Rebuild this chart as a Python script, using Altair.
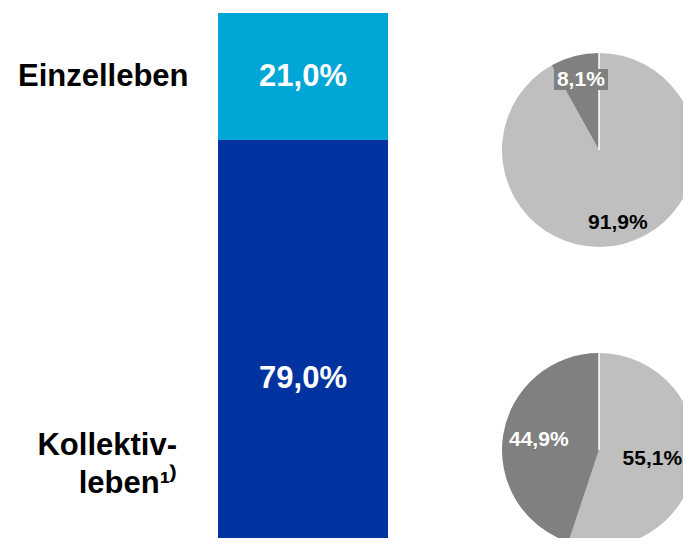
import altair as alt
import pandas as pd

# ---- data ----
categories = ["Einzelleben", "Kollektivleben"]
shares = [21.0, 79.0]
cat_labels = ["Einzelleben", "Kollektiv-\nleben¹⁾"]

pie_groups = ["Einzelleben", "Einzelleben", "Kollektivleben", "Kollektivleben"]
pie_parts = ["hell", "dunkel", "hell", "dunkel"]
pie_values = [91.9, 8.1, 55.1, 44.9]


def fmt(v):
    return f"{v:.1f}".replace(".", ",") + "%"


bar_df = pd.DataFrame({
    "cat": categories,
    "share": shares,
    "order": list(range(len(categories))),
    "label": [fmt(v) for v in shares],
    "catlabel": cat_labels,
})
pie_df = pd.DataFrame({
    "group": pie_groups,
    "part": pie_parts,
    "value": pie_values,
    "idx": list(range(len(pie_values))),
    "label": [fmt(v) for v in pie_values],
})

FONT = "Liberation Sans"
yscale = alt.Scale(domain=[0, 100], range=[5, 610])

bar_base = (
    alt.Chart(bar_df)
    .transform_stack(stack="share", as_=["y0", "y1"], groupby=[], sort=[alt.SortField("order")])
    .transform_calculate(mid="(datum.y0 + datum.y1) / 2")
)

bars = bar_base.mark_rect(clip=True).encode(
    x=alt.value(210),
    x2=alt.value(380),
    y=alt.Y("y0:Q", scale=yscale, axis=None),
    y2="y1:Q",
    color=alt.Color("cat:N", scale=alt.Scale(domain=categories, range=["#00A6D6", "#0033A0"]), legend=None),
)

bar_text = bar_base.mark_text(
    font=FONT, fontSize=31, fontWeight="bold", color="white", align="center", baseline="middle"
).encode(x=alt.value(295), y=alt.Y("mid:Q", scale=yscale, axis=None), text="label:N")

lab1 = bar_base.transform_filter(alt.datum.cat == categories[0]).mark_text(
    font=FONT, fontSize=31, fontWeight="bold", color="black", align="left", baseline="middle"
).encode(x=alt.value(10), y=alt.Y("mid:Q", scale=yscale, axis=None), text="catlabel:N")

lab2 = bar_base.transform_filter(alt.datum.cat == categories[1]).mark_text(
    font=FONT, fontSize=31, fontWeight="bold", color="black", align="right", baseline="middle",
    lineBreak="\n", lineHeight=38, dy=67
).encode(x=alt.value(169), y=alt.Y("mid:Q", scale=yscale, axis=None), text="catlabel:N")

theta_scale = alt.Scale(domain=[0, 100])


def pie(group, cy, r_dark, r_light, box=False):
    base = alt.Chart(pie_df).transform_filter(alt.datum.group == group)
    arc = base.mark_arc(radius=97).encode(
        theta=alt.Theta("value:Q", stack=True, scale=theta_scale),
        color=alt.Color("part:N", scale=alt.Scale(domain=["hell", "dunkel"], range=["#BFBFBF", "#808080"]), legend=None),
        order=alt.Order("idx:Q"),
        x=alt.value(591),
        y=alt.value(cy),
    )
    rule = base.transform_filter(alt.datum.part == "hell").mark_rule(color="white", strokeWidth=1.5).encode(
        x=alt.value(591), y=alt.value(cy - 97), y2=alt.value(cy)
    )
    tbase = (
        base.transform_stack(stack="value", as_=["t0", "t1"], groupby=[], sort=[alt.SortField("idx")])
        .transform_calculate(tmid="(datum.t0 + datum.t1) / 2")
    )
    enc = dict(
        theta=alt.Theta("tmid:Q", stack=None, scale=theta_scale),
        x=alt.value(591),
        y=alt.value(cy),
        text="label:N",
    )
    t_dark = tbase.transform_filter(alt.datum.part == "dunkel").mark_text(
        font=FONT, fontSize=21, fontWeight="bold", radius=r_dark, align="center", baseline="middle", color="white"
    ).encode(**enc)
    t_light = tbase.transform_filter(alt.datum.part == "hell").mark_text(
        font=FONT, fontSize=21, fontWeight="bold", radius=r_light, align="center", baseline="middle", color="black"
    ).encode(**enc)
    layers = [arc, rule]
    if box:
        bx = base.transform_filter(alt.datum.part == "dunkel").mark_rect(color="#808080").encode(
            x=alt.value(546), x2=alt.value(600), y=alt.value(61), y2=alt.value(82)
        )
        layers.append(bx)
    layers += [t_dark, t_light]
    return layers


chart = (
    alt.layer(bars, bar_text, lab1, lab2,
              *pie(pie_groups[0], 142, 72, 75, box=True),
              *pie(pie_groups[2], 442, 61, 54))
    .resolve_scale(color="independent")
    .properties(width=675, height=530, padding=0, autosize="none", background="white")
    .configure_view(stroke=None)
)

chart.save("out.html", embed_options={"renderer": "svg", "actions": False})
